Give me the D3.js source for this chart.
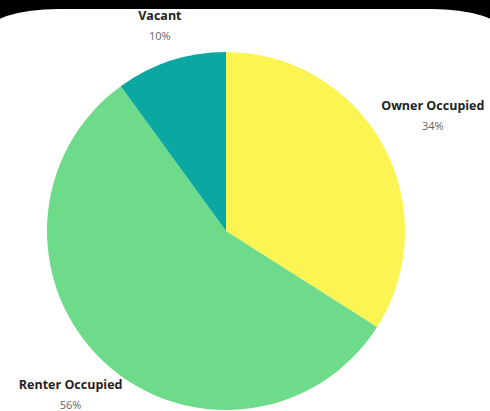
<!DOCTYPE html>
<html>
<head>
<meta charset="utf-8">
<script src="https://cdn.jsdelivr.net/npm/d3@7"></script>
<style>
  html, body { margin: 0; padding: 0; background: #000; }
  svg { display: block; }
</style>
</head>
<body>
<script>
// data
const categories = ["Owner Occupied", "Renter Occupied", "Vacant"];
const shares = [34, 56, 10];
const sliceColors = ["#fcf452", "#6edb8b", "#0aa8a0"];

const w = 490;
const h = 411;
const cx = 226;
const cy = 231;
const radius = 179;

const svg = d3.select("body").append("svg")
  .attr("width", w)
  .attr("height", h);

// white card with rounded top corners on black
svg.append("rect")
  .attr("x", -12)
  .attr("y", 9)
  .attr("width", w + 24)
  .attr("height", h + 60)
  .attr("rx", 70)
  .attr("ry", 22)
  .attr("fill", "#fff");

const table = categories.map((c, i) => ({ name: c, value: shares[i], color: sliceColors[i] }));

const pie = d3.pie()
  .sort(null)
  .value(d => d.value);

const arc = d3.arc()
  .innerRadius(0)
  .outerRadius(radius);

const g = svg.append("g")
  .attr("transform", `translate(${cx},${cy})`);

const arcs = pie(table);

g.selectAll("path")
  .data(arcs)
  .enter()
  .append("path")
  .attr("d", arc)
  .attr("fill", d => d.data.color);

// labels sit outside the pie at the slice's middle angle
const labelRadius = { "Vacant": 214, "Owner Occupied": 236, "Renter Occupied": 227 };
const labels = g.selectAll("g.label")
  .data(arcs)
  .enter()
  .append("g")
  .attr("class", "label")
  .attr("transform", d => {
    const r = labelRadius[d.data.name];
    const a = (d.startAngle + d.endAngle) / 2;
    return `translate(${Math.sin(a) * r},${-Math.cos(a) * r})`;
  });

labels.append("text")
  .attr("y", -7)
  .attr("text-anchor", "middle")
  .style("font-family", "'Open Sans', sans-serif")
  .style("font-weight", "bold")
  .style("font-size", "12.5px")
  .attr("fill", "#222")
  .text(d => d.data.name);

labels.append("text")
  .attr("y", 13)
  .attr("text-anchor", "middle")
  .style("font-family", "'Open Sans', sans-serif")
  .style("font-size", "11px")
  .attr("fill", "#666")
  .text(d => d.data.value + "%");
</script>
</body>
</html>
